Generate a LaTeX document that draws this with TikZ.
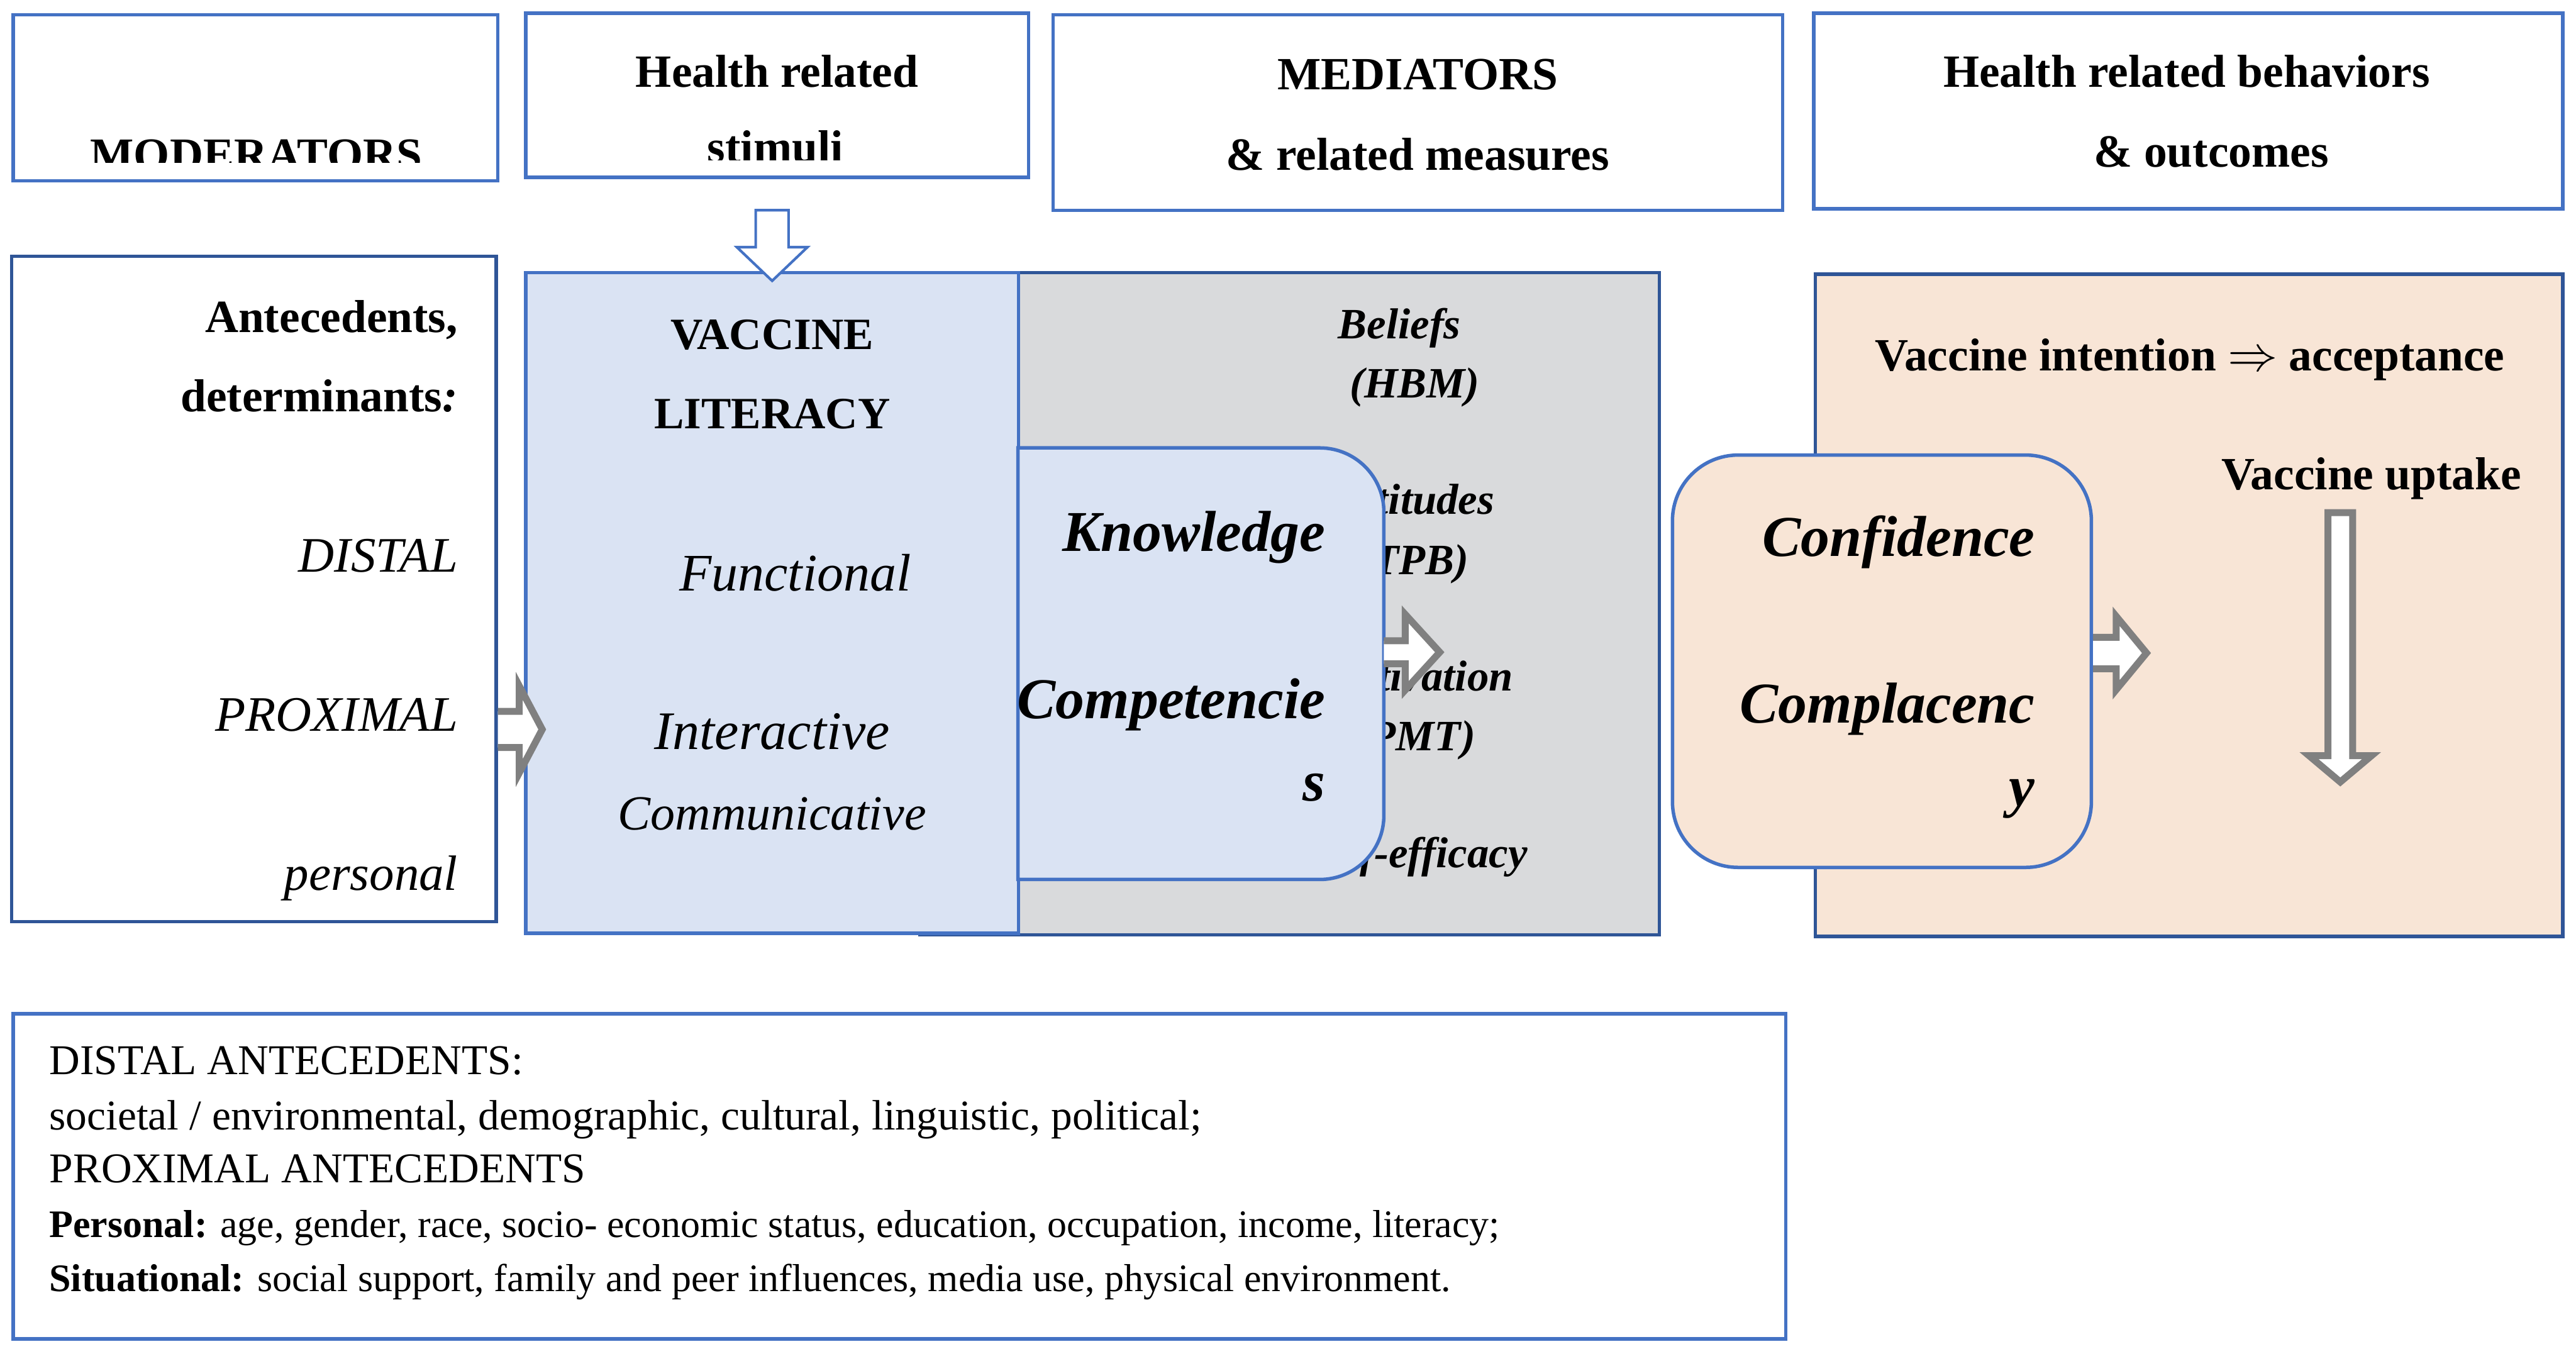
\documentclass[tikz,border=0pt]{standalone}
\usepackage{fontspec}
\setmainfont{Liberation Serif}
\usetikzlibrary{fit,calc}
\definecolor{boxblue}{HTML}{4472C4}
\definecolor{deepblue}{HTML}{2F5597}
\definecolor{litfill}{HTML}{DAE3F3}
\definecolor{medfill}{HTML}{D9DADC}
\definecolor{peach}{HTML}{F8E5D6}
\definecolor{arrowgray}{HTML}{808080}
\newcommand{\fsz}[1]{\fontsize{#1}{#1}\selectfont}

\begin{document}
\begin{tikzpicture}[x=0.02cm,y=-0.02cm,
  hdrbox/.style={draw=boxblue,line width=1.2pt,inner sep=0pt},
  framebox/.style={draw=deepblue,line width=1.2pt,inner sep=0pt},
  roundbox/.style={draw=boxblue,line width=1.2pt,inner sep=0pt,rounded corners=0.8cm},
  lbl/.style={inner sep=0pt,anchor=base,font=\bfseries\fsz{16}},
  itl/.style={inner sep=0pt,anchor=base,font=\itshape\fsz{17.2}},
  bit/.style={inner sep=0pt,anchor=base east,font=\bfseries\itshape\fsz{15}},
  big/.style={inner sep=0pt,anchor=base east,font=\bfseries\itshape\fsz{20}},
  btxt/.style={inner sep=0pt,anchor=base west},
  hollowarrow/.style={draw=arrowgray,fill=white,line width=2.4pt,line join=miter}]
  \useasboundingbox (0,0) rectangle (1568,824);
  \fill[white] (0,0) rectangle (1568,824);

  % header row
  \node[hdrbox,fit={(8,9) (303,110)}] (mod) {};
  \node[hdrbox,fit={(320,8) (626,108)}] (stim) {};
  \node[hdrbox,fit={(641,9) (1085,128)}] (medi) {};
  \node[hdrbox,fit={(1104,8) (1560,127)}] (outhdr) {};
  \begin{scope}
    \clip (8,9) rectangle (303,99);
    \node[lbl] (modtxt) at (156,103.5) {MODERATORS};
  \end{scope}
  \node[lbl] (stimtxt) at (473,52.9) {Health related};
  \begin{scope}
    \clip (320,8) rectangle (626,97.4);
    \node[lbl] (stimtxtb) at (472,99) {stimuli};
  \end{scope}
  \node[lbl] (meditxt) at (863,54.7) {MEDIATORS};
  \node[lbl] (meditxtb) at (863,103.4) {\& related measures};
  \node[lbl] (outtxt) at (1331,52.9) {Health related behaviors};
  \node[lbl] (outtxtb) at (1346,101.5) {\& outcomes};

  % moderators
  \node[framebox,fill=white,fit={(7,156) (302,561)}] (ante) {};
  \node[lbl,anchor=base east] at (279,202.4) {Antecedents,};
  \node[lbl,anchor=base east] at (279,250.6) {determinants\textit{:}};
  \node[itl,anchor=base east] at (279,348) {DISTAL};
  \node[itl,anchor=base east] at (279,445) {PROXIMAL};
  \node[itl,anchor=base east] at (279,542) {personal};

  % mediators
  \node[framebox,fill=medfill,fit={(560,166) (1010,569)}] (medbox) {};
  \node[hdrbox,fill=litfill,fit={(320,166) (620,568)}] (lit) {};
  \node[lbl,font=\bfseries\fsz{15.5}] at (470,212.5) {VACCINE};
  \node[lbl,font=\bfseries\fsz{15.5}] at (470,261) {LITERACY};
  \node[itl,font=\itshape\fsz{18.3}] at (484,359.5) {Functional};
  \node[itl,font=\itshape\fsz{18.8}] at (470,456) {Interactive};
  \node[itl,font=\itshape\fsz{17}] at (470,505) {Communicative};

  \node[bit] at (889.5,206) {Beliefs};
  \node[bit] at (901,242.3) {(HBM)};
  \node[bit] at (910,312.8) {Attitudes};
  \node[bit] at (894.5,349.6) {(TPB)};
  \node[bit] at (921.3,420.6) {Motivation};
  \node[bit] at (898.4,457) {(PMT)};
  \node[bit] at (930,528) {Self-efficacy};

  \node[fit={(620,273) (842,535)},inner sep=0pt] (know) {};
  \draw[boxblue,line width=1.2pt,fill=litfill] (know.south west) -- (know.north west)
    -- ([xshift=-0.78cm]know.north east) arc[start angle=90,end angle=0,radius=0.78cm]
    -- ([yshift=0.78cm]know.south east) arc[start angle=0,end angle=-90,radius=0.78cm]
    -- cycle;
  \node[big] at (807,335.7) {Knowledge};
  \node[big] at (807,437.4) {Competencie};
  \node[big] at (807,487.6) {s};

  % outcomes
  \node[framebox,fill=peach,fit={(1105,167) (1560,570)}] (outc) {};
  \node[roundbox,fill=peach,fit={(1018,277) (1273,528)}] (conf) {};
  \node[big] at (1239,338.5) {Confidence};
  \node[big] at (1239,440) {Complacenc};
  \node[big] at (1239,490.4) {y};
  \node[lbl] (intent) at (1333,225.5) {Vaccine intention $\Rightarrow$ acceptance};
  \node[lbl] (uptake) at (1443.5,298) {Vaccine uptake};

  % bottom legend
  \node[hdrbox,fit={(8,617) (1087,815)}] (legend) {};
  \node[btxt,font=\fsz{14.7}] at (29.7,654.2) {DISTAL ANTECEDENTS:};
  \node[btxt,font=\fsz{14.7}] at (29.7,687.6) {societal / environmental, demographic, cultural, linguistic, political;};
  \node[btxt,font=\fsz{14.7}] at (29.7,720) {PROXIMAL ANTECEDENTS};
  \node[btxt,font=\fsz{13.5}] at (29.7,753) {\textbf{Personal:} age, gender, race, socio- economic status, education, occupation, income, literacy;};
  \node[btxt,font=\fsz{13.5}] at (29.7,786) {\textbf{Situational:} social support, family and peer influences, media use, physical environment.};

  % block arrows
  \draw[boxblue,fill=white,line width=0.9pt,line join=miter]
    ($(lit.north)+(-10,-37)$) -- ++(0,22.5) -- ++(-11.5,0) -- ++(21.5,20.5)
    -- ++(21.5,-20.5) -- ++(-11.5,0) -- ++(0,-22.5) -- cycle;
  \draw[hollowarrow] ($(ante.east |- 0,444)+(0,-11)$) -- ++(13,0) -- ++(0,-15.5)
    -- ++(14,26.5) -- ++(-14,26.5) -- ++(0,-15.5) -- ++(-13,0);
  \draw[hollowarrow] ($(know.east |- 0,397)+(0,-7)$) -- ++(13,0) -- ++(0,-16)
    -- ++(21,23) -- ++(-21,23) -- ++(0,-16) -- ++(-13,0);
  \draw[hollowarrow] ($(conf.east |- 0,397.5)+(0,-9.6)$) -- ++(14,0) -- ++(0,-12.8)
    -- ++(18.5,22.4) -- ++(-18.5,22.4) -- ++(0,-12.8) -- ++(-14,0);
  \draw[hollowarrow] (1417,312) -- (1417,460) -- (1405.5,460) -- (1424.5,476)
    -- (1443.5,460) -- (1432,460) -- (1432,312) -- cycle;
\end{tikzpicture}
\end{document}
